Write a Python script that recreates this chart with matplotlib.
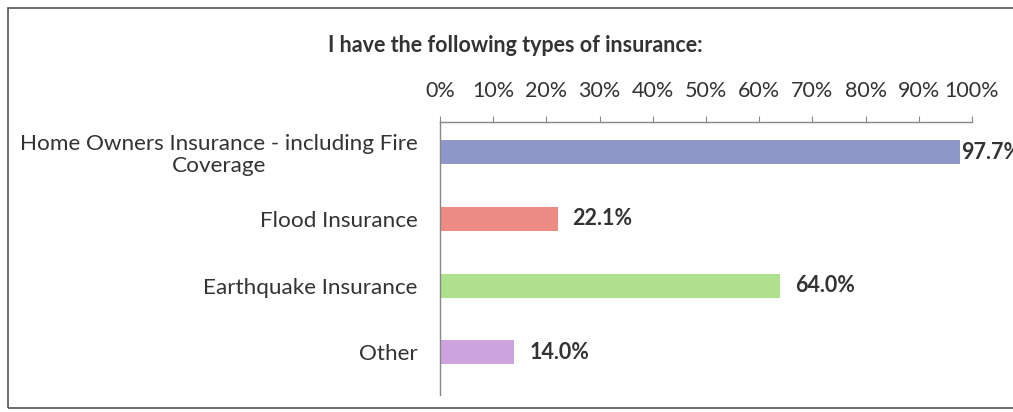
import matplotlib
matplotlib.use("Agg")
import matplotlib.pyplot as plt
from matplotlib.patches import Rectangle

categories = ["Home Owners Insurance - including Fire\nCoverage", "Flood Insurance",
              "Earthquake Insurance", "Other"]
values = [97.7, 22.1, 64.0, 14.0]
colors = ["#8E97C8", "#EC8A84", "#AEE08E", "#CDA3DE"]
xticks = list(range(0, 101, 10))
title = "I have the following types of insurance:"

plt.rcParams['font.family'] = ['Lato', 'DejaVu Sans']

fig = plt.figure(figsize=(10.13, 4.12), dpi=100)
ax = fig.add_axes([440/1013, 17/412, 532/1013, 273/412])

y = list(range(len(categories)))
ax.barh(y, values, height=0.36, color=colors)
ax.set_xlim(0, 100)
ax.set_ylim(3.64, -0.45)

for yi, v in zip(y, values):
    ax.text(v + 2.8 if v < 90 else v + 0.3, yi, f"{v:.1f}%", va='center', ha='left',
            fontsize=15.5, fontweight='bold', color='#333333', clip_on=False)

ax.xaxis.tick_top()
ax.set_xticks(xticks)
ax.set_xticklabels([f"{t}%" for t in xticks], fontsize=15.5, color='#333333')
ax.tick_params(axis='x', direction='out', length=4, color='#888888', pad=11)
ax.set_yticks(y)
ax.set_yticklabels(categories, fontsize=16.2, color='#333333', multialignment='center',
                   linespacing=1.15)
ax.tick_params(axis='y', length=0, pad=16)

for s in ['right', 'bottom']:
    ax.spines[s].set_visible(False)
for s in ['top', 'left']:
    ax.spines[s].set_color('#888888')
    ax.spines[s].set_linewidth(1.0)

fig.text(515/1013, 1 - 45/412, title, ha='center', va='center', fontsize=15.5,
         fontweight='bold', color='#333333')

fig.patches.append(Rectangle((8/1013, 4/412), 1.1, 1 - 12/412, transform=fig.transFigure,
                             fill=False, edgecolor='#555555', linewidth=1.2))

fig.savefig("out.png", dpi=100)
